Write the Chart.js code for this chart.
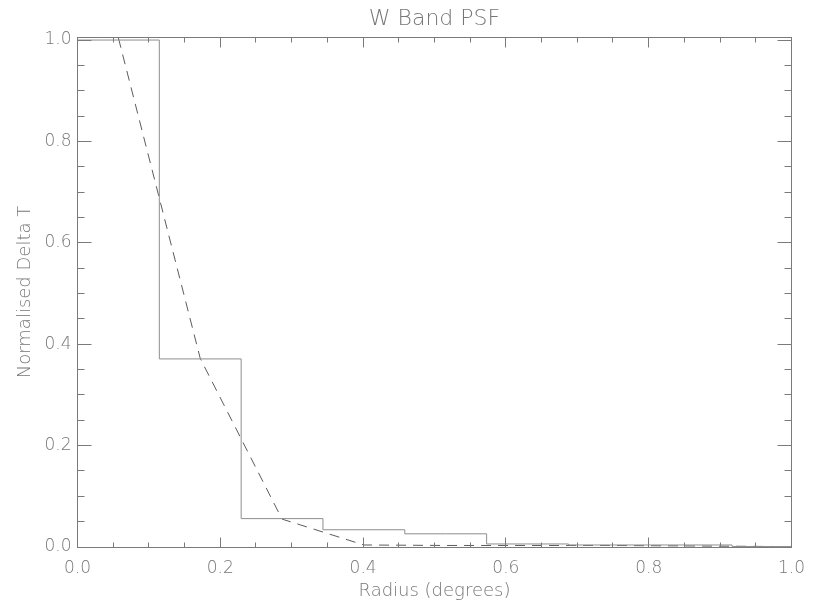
<!DOCTYPE html>
<html>
<head>
<meta charset="utf-8">
<script src="https://cdn.jsdelivr.net/npm/chart.js@4/dist/chart.umd.min.js"></script>
<style>
  html, body { margin: 0; padding: 0; background: #ffffff; }
  #wrap { width: 816px; height: 607px; }
</style>
</head>
<body>
<div id="wrap"><canvas id="psf" width="816" height="607"></canvas></div>
<script>
// W band beam profile: binned measurement (solid histogram) and beam model (dashed)
const radiusCentres = [0.0573, 0.1719, 0.2865, 0.4011, 0.5157, 0.6303, 0.7449, 0.8595, 0.9741];
const binnedDeltaT  = [1.000, 0.371, 0.056, 0.034, 0.026, 0.006, 0.004, 0.004, 0.001];
const modelDeltaT   = [1.004, 0.372, 0.055, 0.004, 0.003, 0.003, 0.003, 0.002, 0.001];

const xTickValues = [0.0, 0.2, 0.4, 0.6, 0.8, 1.0];
const xTickLabels = ['0.0', '0.2', '0.4', '0.6', '0.8', '1.0'];
const yTickValues = [0.0, 0.2, 0.4, 0.6, 0.8, 1.0];
const yTickLabels = ['0.0', '0.2', '0.4', '0.6', '0.8', '1.0'];

const PLOT_TITLE = 'W Band PSF';
const AXIS_COLOUR = '#7a7a7a';
const TEXT_COLOUR = '#767676';
const HIST_COLOUR = '#8e8e8e';
const MODEL_COLOUR = '#5c5c5c';
const FONT = 'DejaVu Sans';
const FONT_WEIGHT = '200';

// Histogram: each bin is a flat step centred on its radius, half a bin wide either side
const halfBin = (radiusCentres[1] - radiusCentres[0]) / 2;
const last = radiusCentres.length - 1;
const histPoints = [{ x: radiusCentres[0] - halfBin, y: binnedDeltaT[0] }]
  .concat(radiusCentres.map((r, i) => ({ x: r, y: binnedDeltaT[i] })))
  .concat([{ x: radiusCentres[last] + halfBin, y: binnedDeltaT[last] }]);
const modelPoints = radiusCentres.map((r, i) => ({ x: r, y: modelDeltaT[i] }));

// Closed frame with inward major/minor ticks on all four sides, plus the title
// centred over the plotting box
const framePlugin = {
  id: 'frame',
  afterDatasetsDraw(chart) {
    const { ctx, chartArea: a, scales: { x, y } } = chart;
    const crisp = v => Math.floor(v) + 0.5;
    const L = crisp(a.left), R = crisp(a.right), T = crisp(a.top), B = crisp(a.bottom);
    ctx.save();
    ctx.strokeStyle = AXIS_COLOUR;
    ctx.lineWidth = 1;
    ctx.strokeRect(L, T, R - L, B - T);

    const minorStep = 0.05, majorStep = 0.2;
    const isMajor = v => Math.abs(v / majorStep - Math.round(v / majorStep)) < 1e-6;
    ctx.beginPath();
    // horizontal axes: tick length 10 (major) / 5 (minor)
    const nx = Math.floor((x.max - x.min) / minorStep + 1e-6);
    for (let k = 0; k <= nx; k++) {
      const v = x.min + k * minorStep;
      const px = crisp(x.getPixelForValue(v));
      const len = isMajor(v) ? 10 : 5;
      ctx.moveTo(px, B); ctx.lineTo(px, B - len);
      ctx.moveTo(px, T); ctx.lineTo(px, T + len);
    }
    // vertical axes: tick length 14 (major) / 7 (minor)
    const ny = Math.floor((y.max - y.min) / minorStep + 1e-6);
    for (let k = 0; k <= ny; k++) {
      const v = y.min + k * minorStep;
      const py = crisp(y.getPixelForValue(v));
      const len = isMajor(v) ? 14 : 7;
      ctx.moveTo(L, py); ctx.lineTo(L + len, py);
      ctx.moveTo(R, py); ctx.lineTo(R - len, py);
    }
    ctx.stroke();

    ctx.fillStyle = TEXT_COLOUR;
    ctx.font = FONT_WEIGHT + ' 22px "' + FONT + '"';
    ctx.textAlign = 'center';
    ctx.textBaseline = 'middle';
    ctx.fillText(PLOT_TITLE, (a.left + a.right) / 2, 19);
    ctx.restore();
  }
};

new Chart(document.getElementById('psf'), {
  type: 'line',
  data: {
    datasets: [
      {
        label: 'Binned',
        data: histPoints,
        stepped: 'middle',
        borderColor: HIST_COLOUR,
        borderWidth: 1,
        pointRadius: 0,
        fill: false
      },
      {
        label: 'Model',
        data: modelPoints,
        borderColor: MODEL_COLOUR,
        borderWidth: 1,
        borderDash: [10, 7],
        pointRadius: 0,
        tension: 0,
        fill: false
      }
    ]
  },
  options: {
    responsive: false,
    animation: false,
    devicePixelRatio: 1,
    layout: { padding: { left: 0, right: 19.5, top: 37, bottom: 0 } },
    plugins: {
      legend: { display: false },
      tooltip: { enabled: false },
      title: { display: false }
    },
    scales: {
      x: {
        type: 'linear',
        min: 0,
        max: 1.0,
        afterBuildTicks: s => { s.ticks = xTickValues.map(v => ({ value: v })); },
        afterFit: s => { s.height = 60; },
        grid: { display: false, drawTicks: false },
        border: { display: false },
        ticks: {
          callback: (v, i) => xTickLabels[i],
          color: TEXT_COLOUR,
          font: { family: FONT, size: 17, weight: FONT_WEIGHT },
          padding: 11,
          maxRotation: 0,
          autoSkip: false
        },
        title: {
          display: true,
          text: 'Radius (degrees)',
          color: TEXT_COLOUR,
          font: { family: FONT, size: 18, weight: FONT_WEIGHT },
          padding: { top: 0, bottom: 5 }
        }
      },
      y: {
        type: 'linear',
        min: 0,
        max: 1.006,
        afterBuildTicks: s => { s.ticks = yTickValues.map(v => ({ value: v })); },
        afterFit: s => { s.width = 77.5; },
        grid: { display: false, drawTicks: false },
        border: { display: false },
        ticks: {
          callback: (v, i) => yTickLabels[i],
          color: TEXT_COLOUR,
          font: { family: FONT, size: 17, weight: FONT_WEIGHT },
          padding: 6,
          autoSkip: false
        },
        title: {
          display: true,
          text: 'Normalised Delta T',
          color: TEXT_COLOUR,
          font: { family: FONT, size: 18, weight: FONT_WEIGHT },
          padding: { top: 15, bottom: 0 }
        }
      }
    }
  },
  plugins: [framePlugin]
});
</script>
</body>
</html>
